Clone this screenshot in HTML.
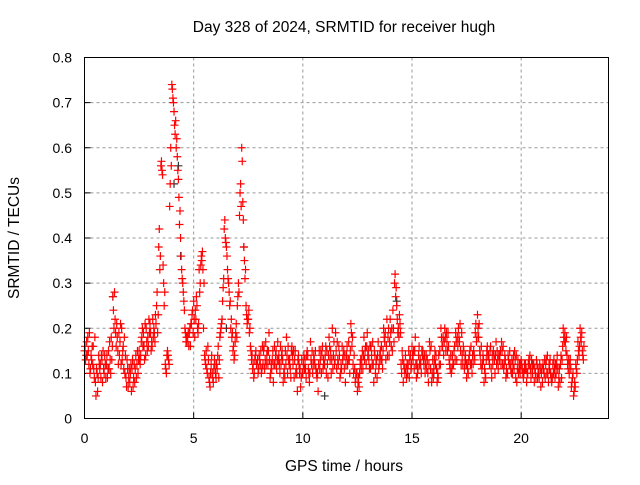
<!DOCTYPE html>
<html><head><meta charset="utf-8"><style>
body{margin:0;background:#fff;width:640px;height:480px;overflow:hidden}
svg{font-family:"Liberation Sans",sans-serif;}
</style></head><body>
<svg id="chart" width="640" height="480" xmlns="http://www.w3.org/2000/svg">
<text x="344" y="32" font-size="15.5" text-anchor="middle">Day 328 of 2024, SRMTID for receiver hugh</text>
<text transform="translate(19,238) rotate(-90)" font-size="15.5" text-anchor="middle">SRMTID / TECUs</text>
<text x="344" y="471" font-size="15.5" text-anchor="middle">GPS time / hours</text>
<g id="grid"></g>
<g id="ticks"></g>
<g id="marks"></g>
<rect x="84.5" y="57.5" width="524" height="361" fill="none" stroke="#000" stroke-width="1"/>
</svg>
<script>
const xTicks=[0,5,10,15,20];
const yTicks=[0,0.1,0.2,0.3,0.4,0.5,0.6,0.7,0.8];
const yTickLabels=["0","0.1","0.2","0.3","0.4","0.5","0.6","0.7","0.8"];
const sampleStepHours=0.1;
const redA=[0.15,0.17,0.12,0.14,0.16,0.08,0.06,0.11,0.13,0.10,0.12,0.15,0.10,0.27,0.22,0.18,0.14,0.20,0.11,0.09,0.07,0.10,0.13,0.08,0.12,0.15,0.17,0.19,0.14,0.18,0.21,0.16,0.19,0.25,0.38,0.56,0.34,0.12,0.15,0.47,0.74,0.68,0.60,0.53,0.40,0.30,0.20,0.17,0.19,0.21,0.26,0.22,0.19,0.30,0.37,0.14,0.11,0.09,0.12,0.08,0.10,0.14,0.18,0.22,0.42,0.38,0.30,0.20,0.15,0.17,0.25,0.45,0.60,0.38,0.25,0.22,0.16,0.11,0.13,0.12,0.14,0.10,0.15,0.17,0.12,0.09,0.13,0.16,0.11,0.14,0.12,0.08,0.15,0.10,0.13,0.16,0.09,0.11,0.14,0.07,0.10,0.13,0.15,0.08,0.12,0.14,0.11,0.06,0.13,0.16,0.12,0.15,0.18,0.10,0.14,0.19,0.13,0.09,0.16,0.11,0.14,0.17,0.21,0.12,0.08,0.06,0.10,0.13,0.18,0.12,0.15,0.11,0.17,0.14,0.09,0.12,0.16,0.20,0.13,0.18,0.22,0.15,0.30,0.25,0.18,0.12,0.08,0.14,0.10,0.13,0.16,0.11,0.09,0.14,0.12,0.15,0.10,0.13,0.17,0.08,0.11,0.14,0.09,0.12,0.16,0.20,0.17,0.13,0.10,0.12,0.19,0.16,0.21,0.14,0.11,0.09,0.13,0.16,0.12,0.19,0.23,0.15,0.11,0.08,0.13,0.14,0.16,0.12,0.10,0.15,0.13,0.17,0.11,0.09,0.14,0.12,0.10,0.15,0.08,0.11,0.13,0.09,0.12,0.10,0.14,0.11,0.08,0.13,0.10,0.07,0.12,0.09,0.14,0.11,0.08,0.13,0.10,0.07,0.12,0.16,0.19,0.14,0.10,0.07,0.05,0.12,0.17,0.20,0.15];
const redB=[0.13,0.18,0.10,0.16,0.09,0.11,0.14,0.09,0.15,0.12,0.09,0.17,0.13,0.20,0.16,0.12,0.21,0.15,0.10,0.13,0.11,0.06,0.09,0.14,0.10,0.12,0.20,0.13,0.17,0.22,0.15,0.18,0.23,0.19,0.33,0.55,0.25,0.10,0.13,0.60,0.71,0.63,0.58,0.43,0.33,0.26,0.17,0.19,0.16,0.24,0.18,0.25,0.33,0.36,0.20,0.12,0.16,0.07,0.10,0.13,0.12,0.09,0.20,0.29,0.40,0.33,0.25,0.18,0.13,0.21,0.30,0.52,0.48,0.31,0.21,0.19,0.13,0.09,0.15,0.10,0.12,0.16,0.11,0.14,0.19,0.12,0.08,0.14,0.17,0.10,0.15,0.11,0.18,0.13,0.09,0.12,0.15,0.06,0.10,0.13,0.14,0.09,0.11,0.17,0.10,0.12,0.09,0.15,0.10,0.13,0.16,0.09,0.13,0.20,0.12,0.11,0.16,0.12,0.14,0.08,0.12,0.10,0.16,0.14,0.10,0.09,0.13,0.11,0.15,0.19,0.11,0.14,0.08,0.12,0.17,0.15,0.11,0.17,0.22,0.14,0.16,0.20,0.27,0.19,0.21,0.15,0.11,0.09,0.15,0.11,0.13,0.18,0.10,0.12,0.15,0.12,0.14,0.08,0.11,0.13,0.15,0.08,0.12,0.18,0.14,0.15,0.19,0.11,0.14,0.16,0.13,0.18,0.12,0.16,0.14,0.11,0.15,0.10,0.14,0.17,0.18,0.12,0.14,0.10,0.16,0.12,0.09,0.14,0.17,0.11,0.15,0.12,0.14,0.10,0.12,0.10,0.14,0.09,0.13,0.10,0.11,0.12,0.08,0.13,0.09,0.12,0.10,0.09,0.12,0.11,0.10,0.13,0.08,0.10,0.12,0.09,0.14,0.11,0.09,0.18,0.15,0.11,0.13,0.09,0.08,0.10,0.14,0.17,0.13];
const redC=[0.16,0.14,0.19,0.13,0.11,0.05,0.09,0.12,0.08,0.14,0.14,0.11,0.18,0.24,0.19,0.15,0.17,0.13,0.18,0.07,0.09,0.12,0.07,0.11,0.15,0.13,0.18,0.16,0.20,0.16,0.19,0.22,0.17,0.28,0.42,0.57,0.30,0.11,0.14,0.52,0.73,0.65,0.62,0.49,0.36,0.28,0.19,0.18,0.20,0.23,0.22,0.27,0.21,0.34,0.33,0.13,0.10,0.08,0.14,0.11,0.09,0.16,0.19,0.26,0.44,0.36,0.28,0.22,0.16,0.19,0.27,0.50,0.57,0.35,0.23,0.24,0.15,0.12,0.14,0.13,0.13,0.11,0.16,0.12,0.15,0.10,0.15,0.12,0.13,0.12,0.14,0.10,0.12,0.16,0.11,0.14,0.13,0.10,0.12,0.09,0.12,0.11,0.14,0.10,0.15,0.13,0.10,0.12,0.15,0.11,0.14,0.12,0.16,0.13,0.17,0.15,0.12,0.10,0.13,0.14,0.16,0.13,0.19,0.10,0.09,0.08,0.12,0.15,0.13,0.16,0.13,0.16,0.12,0.10,0.14,0.14,0.13,0.18,0.16,0.20,0.19,0.24,0.32,0.22,0.23,0.10,0.12,0.11,0.12,0.14,0.14,0.15,0.12,0.16,0.10,0.13,0.12,0.10,0.15,0.10,0.13,0.11,0.14,0.20,0.18,0.18,0.15,0.12,0.11,0.15,0.17,0.20,0.15,0.12,0.13,0.12,0.14,0.12,0.15,0.21,0.20,0.14,0.12,0.11,0.15,0.13,0.11,0.15,0.14,0.13,0.14,0.15,0.12,0.11,0.13,0.11,0.12,0.13,0.11,0.12,0.12,0.10,0.11,0.12,0.11,0.10,0.11,0.12,0.09,0.10,0.11,0.12,0.10,0.13,0.09,0.11,0.12,0.09,0.14,0.20,0.17,0.12,0.12,0.08,0.06,0.11,0.15,0.18,0.14];
const redD=[0.14,0.15,0.11,0.12,0.18,0.10,0.12,0.14,0.11,0.09,0.11,0.13,0.16,0.28,0.21,0.19,0.12,0.16,0.14,0.11,0.08,0.11,0.12,0.09,0.13,0.14,0.16,0.21,0.15,0.19,0.17,0.20,0.21,0.23,0.36,0.54,0.28,0.14,0.12,0.56,0.70,0.66,0.55,0.46,0.31,0.24,0.18,0.16,0.21,0.19,0.24,0.20,0.28,0.35,0.30,0.15,0.13,0.10,0.09,0.12,0.11,0.13,0.21,0.31,0.39,0.31,0.26,0.19,0.14,0.18,0.28,0.47,0.44,0.33,0.22,0.20,0.14,0.10,0.12,0.11,0.15,0.12,0.13,0.15,0.13,0.11,0.12,0.15,0.13,0.16,0.13,0.09,0.14,0.12,0.15,0.15,0.10,0.13,0.11,0.10,0.11,0.14,0.10,0.13,0.12,0.15,0.10,0.11,0.14,0.12,0.10,0.14,0.15,0.11,0.13,0.17,0.14,0.11,0.15,0.12,0.13,0.15,0.18,0.11,0.10,0.07,0.11,0.14,0.16,0.14,0.16,0.12,0.15,0.13,0.11,0.13,0.15,0.19,0.14,0.17,0.20,0.17,0.29,0.20,0.19,0.13,0.10,0.12,0.09,0.12,0.15,0.12,0.11,0.13,0.14,0.14,0.11,0.12,0.16,0.09,0.12,0.10,0.15,0.16,0.17,0.19,0.16,0.14,0.12,0.13,0.18,0.17,0.19,0.15,0.12,0.10,0.12,0.14,0.13,0.18,0.21,0.16,0.13,0.09,0.14,0.15,0.14,0.13,0.12,0.14,0.12,0.16,0.13,0.10,0.15,0.13,0.11,0.14,0.10,0.12,0.10,0.11,0.10,0.12,0.13,0.12,0.09,0.11,0.11,0.08,0.13,0.10,0.12,0.09,0.10,0.12,0.11,0.08,0.13,0.17,0.18,0.13,0.11,0.10,0.07,0.13,0.16,0.19,0.16];
const blackTimes=[1.3,4.1,4.3,4.4,6.5,7.3,11.0,14.3,16.0,20.5];
const blackValues=[0.27,0.52,0.56,0.36,0.20,0.38,0.05,0.26,0.10,0.12];
const X0=84.5,X1=608.5,Y0=418.5,Y1=57.5,XMAX=24,YMAX=0.8;
function sx(t){return X0+(X1-X0)*t/XMAX;}
function sy(v){return Y0-(Y0-Y1)*v/YMAX;}
const NS="http://www.w3.org/2000/svg";
const grid=document.getElementById('grid'),ticks=document.getElementById('ticks'),marks=document.getElementById('marks');
function mk(tag,attrs,parent){const e=document.createElementNS(NS,tag);for(const k in attrs)e.setAttribute(k,attrs[k]);parent.appendChild(e);return e;}
xTicks.forEach((t,i)=>{
 const x=sx(t);
 if(i>0){const g=mk('line',{x1:x,x2:x,y1:Y1,y2:Y0,stroke:'#999','stroke-dasharray':'3,3'},grid);
 
 }
 const l=mk('line',{x1:x,x2:x,y1:Y0,y2:Y0-6,stroke:'#000'},ticks);
 
 
 const tx=mk('text',{x:x,y:443,'font-size':14,'text-anchor':'middle'},ticks);tx.textContent=String(t);
 
 
});
yTicks.forEach((v,i)=>{
 const y=sy(v);
 if(i>0&&i<yTicks.length-1){const g=mk('line',{x1:X0,x2:X1,y1:y,y2:y,stroke:'#999','stroke-dasharray':'3,3'},grid);
 
 }
 const l=mk('line',{x1:X0,x2:X0+6,y1:y,y2:y,stroke:'#000'},ticks);
 
 
 const tx=mk('text',{x:72,y:y+5,'font-size':14,'text-anchor':'end'},ticks);tx.textContent=yTickLabels[i];
 
 
});
function plus(t,v,color){
 const x=sx(t),y=sy(v);
 const p=mk('path',{d:`M${x-4} ${y}H${x+4}M${x} ${y-4}V${y+4}`,stroke:color,'stroke-width':1.2,fill:'none'},marks);
 return p;
}
blackTimes.forEach((t,i)=>{const p=plus(t,blackValues[i],'#333');
 
 });
const redSeries=[[redA,0],[redC,0.025],[redB,0.05],[redD,0.075]];
redSeries.forEach(([arr,off])=>{
 arr.forEach((v,i)=>{const p=plus(i*sampleStepHours+off,v,'#f00');
  
  });
});
</script>
</body></html>
